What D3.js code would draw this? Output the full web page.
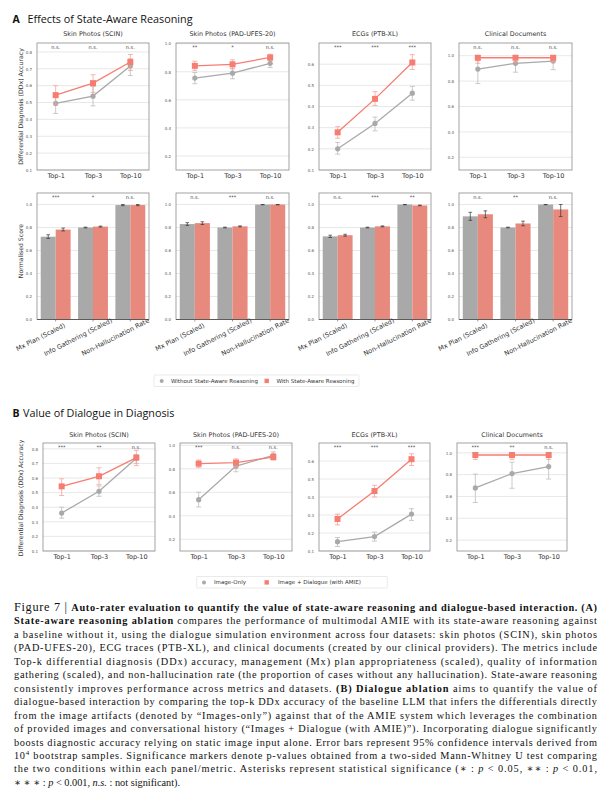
<!DOCTYPE html>
<html><head><meta charset="utf-8">
<script src="https://cdn.jsdelivr.net/npm/d3@7"></script>
<style>body{margin:0;background:#fff}svg{display:block}</style>
</head><body><svg id="c" width="611" height="794"></svg>
<script>
// ---------------- DATA ----------------
const topK = ["Top-1", "Top-3", "Top-10"];
const datasets = ["Skin Photos (SCIN)", "Skin Photos (PAD-UFES-20)", "ECGs (PTB-XL)", "Clinical Documents"];
const metrics = ["Mx Plan (Scaled)", "Info Gathering (Scaled)", "Non-Hallucination Rate"];
const aSeriesNames = ["Without State-Aware Reasoning", "With State-Aware Reasoning"];
const bSeriesNames = ["Image-Only", "Image + Dialogue (with AMIE)"];

// Panel A, top row: top-k DDx accuracy
const aWithout   = [[0.495, 0.538, 0.716], [0.755, 0.790, 0.860], [0.200, 0.320, 0.463], [0.895, 0.940, 0.958]];
const aWithoutLo = [[0.435, 0.480, 0.660], [0.715, 0.750, 0.830], [0.175, 0.285, 0.430], [0.780, 0.870, 0.890]];
const aWithoutHi = [[0.545, 0.595, 0.760], [0.795, 0.825, 0.885], [0.230, 0.350, 0.495], [0.960, 0.995, 1.000]];
const aWith      = [[0.544, 0.615, 0.740], [0.842, 0.853, 0.902], [0.278, 0.436, 0.608], [0.984, 0.984, 0.984]];
const aWithLo    = [[0.490, 0.560, 0.690], [0.810, 0.820, 0.880], [0.250, 0.405, 0.575], [0.940, 0.950, 0.950]];
const aWithHi    = [[0.600, 0.665, 0.785], [0.875, 0.885, 0.925], [0.305, 0.470, 0.645], [1.000, 1.000, 1.000]];
const aDdxSig    = [["n.s.", "n.s.", "n.s."], ["**", "*", "n.s."], ["***", "***", "***"], ["n.s.", "n.s.", "n.s."]];
const aDdxTicks  = [[0.1, 0.2, 0.3, 0.4, 0.5, 0.6, 0.7, 0.8], [0.2, 0.4, 0.6, 0.8, 1.0], [0.1, 0.2, 0.3, 0.4, 0.5, 0.6], [0.2, 0.4, 0.6, 0.8, 1.0]];
const aDdxMax    = [0.853, 1.005, 0.70, 1.10];

// Panel A, bottom row: normalised scores
const aMetWithout   = [[0.720, 0.800, 0.995], [0.830, 0.800, 1.000], [0.723, 0.800, 1.000], [0.897, 0.800, 1.000]];
const aMetWithoutLo = [[0.705, 0.797, 0.990], [0.818, 0.797, 0.998], [0.713, 0.797, 0.998], [0.862, 0.797, 0.998]];
const aMetWithoutHi = [[0.737, 0.803, 1.000], [0.842, 0.803, 1.000], [0.733, 0.803, 1.000], [0.932, 0.803, 1.000]];
const aMetWith      = [[0.782, 0.808, 0.995], [0.838, 0.810, 1.000], [0.733, 0.810, 0.992], [0.915, 0.835, 0.957]];
const aMetWithLo    = [[0.770, 0.804, 0.990], [0.826, 0.806, 0.997], [0.725, 0.806, 0.989], [0.885, 0.815, 0.895]];
const aMetWithHi    = [[0.795, 0.812, 1.000], [0.850, 0.814, 1.000], [0.741, 0.814, 0.995], [0.945, 0.855, 1.000]];
const aMetSig       = [["***", "*", "n.s."], ["n.s.", "***", "n.s."], ["n.s.", "***", "**"], ["n.s.", "**", "n.s."]];
const metricTicks   = [0.0, 0.2, 0.4, 0.6, 0.8, 1.0];

// Panel B: top-k DDx accuracy
const bImage     = [[0.360, 0.509, 0.735], [0.537, 0.823, 0.915], [0.152, 0.180, 0.305], [0.678, 0.810, 0.874]];
const bImageLo   = [[0.325, 0.475, 0.700], [0.475, 0.775, 0.885], [0.125, 0.155, 0.270], [0.545, 0.675, 0.760]];
const bImageHi   = [[0.400, 0.545, 0.760], [0.600, 0.860, 0.945], [0.175, 0.205, 0.335], [0.805, 0.915, 0.965]];
const bDialog    = [[0.543, 0.612, 0.740], [0.844, 0.853, 0.900], [0.278, 0.433, 0.610], [0.980, 0.980, 0.980]];
const bDialogLo  = [[0.480, 0.555, 0.685], [0.810, 0.820, 0.875], [0.245, 0.400, 0.575], [0.940, 0.940, 0.940]];
const bDialogHi  = [[0.595, 0.670, 0.790], [0.875, 0.885, 0.930], [0.305, 0.465, 0.640], [1.000, 1.000, 1.000]];
const bSig       = [["***", "**", "n.s."], ["***", "n.s.", "n.s."], ["***", "***", "***"], ["***", "**", "n.s."]];
const bDdxTicks  = [[0.1, 0.2, 0.3, 0.4, 0.5, 0.6, 0.7, 0.8], [0.2, 0.4, 0.6, 0.8, 1.0], [0.1, 0.2, 0.3, 0.4, 0.5, 0.6], [0.2, 0.4, 0.6, 0.8, 1.0]];
const bDdxMax    = [0.84, 1.02, 0.70, 1.09];

// ---------------- STYLE / LAYOUT ----------------
const GRAY = "#a9a9a9", RED = "#f67d72", RED_BAR = "#e8897e";
const FONT = "DejaVu Sans, Verdana, sans-serif";
const colsA = [[37, 149], [176, 289], [319, 431], [459, 572]];
const colsB = [[43, 155], [180, 292], [319, 430], [457, 567]];
const svg = d3.select("#c");

function frame(l, r, t, b) {
  svg.append("rect").attr("x", l).attr("y", t).attr("width", r - l).attr("height", b - t)
    .attr("fill", "none").attr("stroke", "#8c8c8c").attr("stroke-width", 0.8);
}
function grid(y, ticks, l, r) {
  svg.append("g").selectAll("line").data(ticks).join("line")
    .attr("x1", l).attr("x2", r).attr("y1", d => y(d)).attr("y2", d => y(d))
    .attr("stroke", "#e2e2e2").attr("stroke-width", 0.8);
}
function yAxis(y, ticks, l) {
  const g = svg.append("g").attr("transform", `translate(${l},0)`)
    .call(d3.axisLeft(y).tickValues(ticks).tickFormat(d3.format(".1f")).tickSize(0).tickPadding(5));
  g.select(".domain").remove();
  g.selectAll("text").attr("font-size", 4).attr("font-family", FONT).attr("fill", "#555");
}
function sigText(xs, labels, t) {
  svg.append("g").selectAll("text").data(labels).join("text")
    .attr("x", (d, i) => xs[i]).attr("y", t + 5.5).attr("text-anchor", "middle")
    .attr("font-size", 5).attr("font-family", FONT).attr("fill", "#444").text(d => d);
}
function title(txt, l, r, y) {
  svg.append("text").attr("x", (l + r) / 2).attr("y", y).attr("text-anchor", "middle")
    .attr("font-size", 6.4).attr("font-family", FONT).attr("fill", "#333").text(txt);
}

function linePanel(l, r, t, b, maxY, ticks, ser, sig, ttl, titleY) {
  const x = d3.scalePoint().domain(topK).range([l, r]).padding(0.5);
  const y = d3.scaleLinear().domain([0.1, maxY]).range([b, t]);
  grid(y, ticks, l, r);
  yAxis(y, ticks, l);
  const xa = svg.append("g").attr("transform", `translate(0,${b})`)
    .call(d3.axisBottom(x).tickSize(0).tickPadding(3));
  xa.select(".domain").remove();
  xa.selectAll("text").attr("font-size", 6.5).attr("font-family", FONT).attr("fill", "#333");
  frame(l, r, t, b);
  title(ttl, l, r, titleY);
  ser.forEach(s => {
    const pts = topK.map((k, i) => ({k, v: s.v[i], lo: s.lo[i], hi: s.hi[i]}));
    svg.append("path").datum(pts).attr("fill", "none").attr("stroke", s.color).attr("stroke-width", 1.3)
      .attr("d", d3.line().x(d => x(d.k)).y(d => y(d.v)));
    const eb = svg.append("g").attr("stroke", s.ecolor).attr("stroke-width", 0.8);
    pts.forEach(d => {
      eb.append("line").attr("x1", x(d.k)).attr("x2", x(d.k)).attr("y1", y(d.lo)).attr("y2", y(d.hi));
      eb.append("line").attr("x1", x(d.k) - 2.5).attr("x2", x(d.k) + 2.5).attr("y1", y(d.lo)).attr("y2", y(d.lo));
      eb.append("line").attr("x1", x(d.k) - 2.5).attr("x2", x(d.k) + 2.5).attr("y1", y(d.hi)).attr("y2", y(d.hi));
    });
    if (s.shape === "circle") {
      svg.append("g").selectAll("circle").data(pts).join("circle")
        .attr("cx", d => x(d.k)).attr("cy", d => y(d.v)).attr("r", 2.6).attr("fill", s.color);
    } else {
      svg.append("g").selectAll("rect").data(pts).join("rect")
        .attr("x", d => x(d.k) - 3).attr("y", d => y(d.v) - 3).attr("width", 6).attr("height", 6).attr("fill", s.color);
    }
  });
  sigText(topK.map(k => x(k)), sig, t);
}

function barPanel(l, r, t, b, ser, sig) {
  const x0 = d3.scaleBand().domain(metrics).range([l, r]).paddingInner(0.2).paddingOuter(0.1);
  const x1 = d3.scaleBand().domain([0, 1]).range([0, x0.bandwidth()]);
  const y = d3.scaleLinear().domain([0, 1.1]).range([b, t]);
  grid(y, metricTicks, l, r);
  yAxis(y, metricTicks, l);
  ser.forEach((s, si) => {
    const pts = metrics.map((m, i) => ({m, v: s.v[i], lo: s.lo[i], hi: s.hi[i]}));
    svg.append("g").selectAll("rect").data(pts).join("rect")
      .attr("x", d => x0(d.m) + x1(si)).attr("y", d => y(d.v))
      .attr("width", x1.bandwidth()).attr("height", d => y(0) - y(d.v)).attr("fill", s.color);
    const eb = svg.append("g").attr("stroke", "#333").attr("stroke-width", 0.7);
    pts.forEach(d => {
      const cx = x0(d.m) + x1(si) + x1.bandwidth() / 2;
      eb.append("line").attr("x1", cx).attr("x2", cx).attr("y1", y(d.lo)).attr("y2", y(d.hi));
      eb.append("line").attr("x1", cx - 1.8).attr("x2", cx + 1.8).attr("y1", y(d.lo)).attr("y2", y(d.lo));
      eb.append("line").attr("x1", cx - 1.8).attr("x2", cx + 1.8).attr("y1", y(d.hi)).attr("y2", y(d.hi));
    });
  });
  frame(l, r, t, b);
  svg.append("line").attr("x1", l).attr("x2", r).attr("y1", b).attr("y2", b).attr("stroke", "#555").attr("stroke-width", 0.9);
  const centers = metrics.map(m => x0(m) + x0.bandwidth() / 2);
  svg.append("g").selectAll("line").data(centers).join("line")
    .attr("x1", d => d).attr("x2", d => d).attr("y1", b).attr("y2", b + 2).attr("stroke", "#555").attr("stroke-width", 0.6);
  svg.append("g").selectAll("text").data(metrics).join("text")
    .attr("transform", (d, i) => `translate(${centers[i] - 15},${b + 17.5}) rotate(-27)`)
    .attr("text-anchor", "middle").attr("dy", "0.35em")
    .attr("font-size", 6.5).attr("font-family", FONT).attr("fill", "#333").text(d => d);
  sigText(centers, sig, t);
}

function yLabel(txt, x, y) {
  svg.append("text").attr("transform", `translate(${x},${y}) rotate(-90)`).attr("text-anchor", "middle")
    .attr("dy", "0.35em").attr("font-size", 6.2).attr("font-family", FONT).attr("fill", "#333").text(txt);
}

// ---------------- HEADINGS ----------------
function heading(letter, txt, y, tx) {
  const t = svg.append("text").attr("x", 12.5).attr("y", y).attr("font-family", "Open Sans, Noto Sans, sans-serif").attr("fill", "#111");
  t.append("tspan").attr("font-weight", "bold").attr("font-size", 10.5).text(letter);
  t.append("tspan").attr("x", tx).attr("font-size", 10.8).text(txt);
}
heading("A", "Effects of State-Aware Reasoning", 23, 27.5);
heading("B", "Value of Dialogue in Diagnosis", 417, 23);

// ---------------- PANEL A ----------------
datasets.forEach((ds, i) => {
  const [l, r] = colsA[i];
  linePanel(l, r, 43, 170, aDdxMax[i], aDdxTicks[i], [
    {v: aWithout[i], lo: aWithoutLo[i], hi: aWithoutHi[i], color: GRAY, ecolor: "#bdbdbd", shape: "circle"},
    {v: aWith[i], lo: aWithLo[i], hi: aWithHi[i], color: RED, ecolor: "#f7a19a", shape: "square"}
  ], aDdxSig[i], ds, 35.5);
  barPanel(l, r, 193, 319.5, [
    {v: aMetWithout[i], lo: aMetWithoutLo[i], hi: aMetWithoutHi[i], color: GRAY},
    {v: aMetWith[i], lo: aMetWithLo[i], hi: aMetWithHi[i], color: RED_BAR}
  ], aMetSig[i]);
});
yLabel("Differential Diagnosis (DDx) Accuracy", 20.5, 106.5);
yLabel("Normalised Score", 20.5, 251);

function drawLegend(l, t, w, names, items) {
  svg.append("rect").attr("x", l).attr("y", t).attr("width", w).attr("height", 11.5)
    .attr("fill", "#fff").attr("stroke", "#dcdcdc").attr("stroke-width", 0.6).attr("rx", 1);
  const g = svg.append("g").attr("font-family", FONT).attr("font-size", 5.5).attr("fill", "#333");
  g.append("circle").attr("cx", items[0]).attr("cy", t + 5.9).attr("r", 2).attr("fill", GRAY);
  g.append("text").attr("x", items[1]).attr("y", t + 7.8).text(names[0]);
  g.append("rect").attr("x", items[2] - 2.2).attr("y", t + 3.7).attr("width", 4.4).attr("height", 4.4).attr("fill", RED);
  g.append("text").attr("x", items[3]).attr("y", t + 7.8).text(names[1]);
}
drawLegend(154, 375, 205, aSeriesNames, [161.7, 171, 266.7, 276.5]);

// ---------------- PANEL B ----------------
datasets.forEach((ds, i) => {
  const [l, r] = colsB[i];
  linePanel(l, r, 443, 551, bDdxMax[i], bDdxTicks[i], [
    {v: bImage[i], lo: bImageLo[i], hi: bImageHi[i], color: GRAY, ecolor: "#bdbdbd", shape: "circle"},
    {v: bDialog[i], lo: bDialogLo[i], hi: bDialogHi[i], color: RED, ecolor: "#f7a19a", shape: "square"}
  ], bSig[i], ds, 437);
});
yLabel("Differential Diagnosis (DDx) Accuracy", 20.5, 498);
drawLegend(196.7, 576.5, 190.6, bSeriesNames, [204, 214, 266.7, 278]);

// ---------------- CAPTION ----------------
const captionLines = [
  [["Figure 7 | ", "fig"], ["Auto-rater evaluation to quantify the value of state-aware reasoning and dialogue-based interaction. (A)", "b"]],
  [["State-aware reasoning ablation", "b"], [" compares the performance of multimodal AMIE with its state-aware reasoning against", ""]],
  [["a baseline without it, using the dialogue simulation environment across four datasets: skin photos (SCIN), skin photos", ""]],
  [["(PAD-UFES-20), ECG traces (PTB-XL), and clinical documents (created by our clinical providers). The metrics include", ""]],
  [["Top-k differential diagnosis (DDx) accuracy, management (Mx) plan appropriateness (scaled), quality of information", ""]],
  [["gathering (scaled), and non-hallucination rate (the proportion of cases without any hallucination). State-aware reasoning", ""]],
  [["consistently improves performance across metrics and datasets. ", ""], ["(B) Dialogue ablation", "b"], [" aims to quantify the value of", ""]],
  [["dialogue-based interaction by comparing the top-k DDx accuracy of the baseline LLM that infers the differentials directly", ""]],
  [["from the image artifacts (denoted by \u201cImages-only\u201d) against that of the AMIE system which leverages the combination", ""]],
  [["of provided images and conversational history (\u201cImages + Dialogue (with AMIE)\u201d). Incorporating dialogue significantly", ""]],
  [["boosts diagnostic accuracy relying on static image input alone. Error bars represent 95% confidence intervals derived from", ""]],
  [["10", ""], ["4", "sup"], [" bootstrap samples. Significance markers denote p-values obtained from a two-sided Mann-Whitney U test comparing", "after"]],
  [["the two conditions within each panel/metric. Asterisks represent statistical significance (\u2217 : ", ""], ["p", "i"], [" < 0.05, \u2217\u2217 : ", ""], ["p", "i"], [" < 0.01,", ""]],
  [["\u2217 \u2217 \u2217 : ", ""], ["p", "i"], [" < 0.001, ", ""], ["n.s.", "i"], [" : not significant).", ""]]
];
captionLines.forEach((segs, li) => {
  const t = svg.append("text").attr("x", 14).attr("y", 611 + li * 13.45)
    .attr("font-family", "Liberation Serif, DejaVu Serif, serif").attr("font-size", 10.3).attr("fill", "#111");
  if (li < captionLines.length - 1) t.attr("textLength", 583).attr("lengthAdjust", "spacing");
  segs.forEach(([txt, st]) => {
    const s = t.append("tspan").text(txt);
    if (st === "b") s.attr("font-weight", "bold");
    if (st === "i") s.attr("font-style", "italic");
    if (st === "fig") s.attr("font-size", 12.3);
    if (st === "sup") s.attr("font-size", 7).attr("dy", -4);
    if (st === "after") s.attr("dy", 4);
  });
});
</script></body></html>
